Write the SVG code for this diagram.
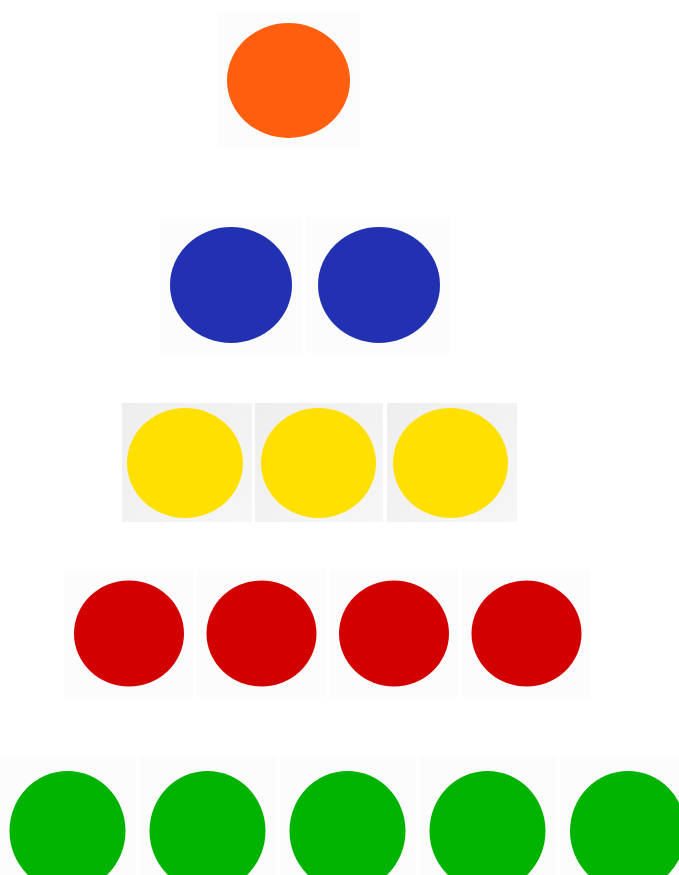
<svg xmlns="http://www.w3.org/2000/svg" width="679" height="875" viewBox="0 0 679 875">
  <defs>
    <linearGradient id="ybg" x1="0" y1="0" x2="1" y2="1">
      <stop offset="0" stop-color="#eeeeee"/>
      <stop offset="1" stop-color="#f6f6f6"/>
    </linearGradient>
    <style>
      .bgf { fill: #fcfcfc; }
      .bgy { fill: url(#ybg); }
      .orange { fill: #ff5f0f; }
      .blue { fill: #2131b1; }
      .yellow { fill: #ffe000; }
      .red { fill: #d20000; }
      .green { fill: #00b300; }
    </style>
  </defs>
  <rect x="0" y="0" width="679" height="875" fill="#ffffff"/>

  <g id="orange-1">
    <rect class="bgf" x="217" y="12" width="143" height="136"/>
    <ellipse class="orange" cx="288.5" cy="80.5" rx="61.5" ry="57.5"/>
  </g>

  <g id="blue-1">
    <rect class="bgf" x="160" y="217" width="143" height="136"/>
    <ellipse class="blue" cx="231" cy="285" rx="61" ry="58"/>
  </g>
  <g id="blue-2">
    <rect class="bgf" x="307" y="217" width="143" height="136"/>
    <ellipse class="blue" cx="379" cy="285" rx="61" ry="58"/>
  </g>

  <g id="yellow-1">
    <rect class="bgy" x="122" y="403" width="130" height="119"/>
    <ellipse class="yellow" cx="185" cy="463" rx="58" ry="55"/>
  </g>
  <g id="yellow-2">
    <rect class="bgy" x="255" y="403" width="128" height="119"/>
    <ellipse class="yellow" cx="318.5" cy="463" rx="57.5" ry="55"/>
  </g>
  <g id="yellow-3">
    <rect class="bgy" x="387" y="403" width="130" height="119"/>
    <ellipse class="yellow" cx="450.5" cy="463" rx="57.5" ry="55"/>
  </g>

  <g id="red-1">
    <rect class="bgf" x="64" y="569" width="129" height="128"/>
    <ellipse class="red" cx="129" cy="633.5" rx="55" ry="53"/>
  </g>
  <g id="red-2">
    <rect class="bgf" x="197" y="569" width="129" height="128"/>
    <ellipse class="red" cx="261.5" cy="633.5" rx="55" ry="53"/>
  </g>
  <g id="red-3">
    <rect class="bgf" x="329" y="569" width="129" height="128"/>
    <ellipse class="red" cx="394" cy="633.5" rx="55" ry="53"/>
  </g>
  <g id="red-4">
    <rect class="bgf" x="462" y="569" width="129" height="128"/>
    <ellipse class="red" cx="526.5" cy="633.5" rx="55" ry="53"/>
  </g>

  <g id="green-1">
    <rect class="bgf" x="0" y="757" width="136" height="118"/>
    <ellipse class="green" cx="67.5" cy="831" rx="58" ry="60"/>
  </g>
  <g id="green-2">
    <rect class="bgf" x="140" y="757" width="136" height="118"/>
    <ellipse class="green" cx="207.5" cy="831" rx="58" ry="60"/>
  </g>
  <g id="green-3">
    <rect class="bgf" x="280" y="757" width="136" height="118"/>
    <ellipse class="green" cx="347.5" cy="831" rx="58" ry="60"/>
  </g>
  <g id="green-4">
    <rect class="bgf" x="420" y="757" width="136" height="118"/>
    <ellipse class="green" cx="487.5" cy="831" rx="58" ry="60"/>
  </g>
  <g id="green-5">
    <rect class="bgf" x="560" y="757" width="119" height="118"/>
    <ellipse class="green" cx="628" cy="831" rx="58" ry="60"/>
  </g>

  <g id="connectors"/>
</svg>
